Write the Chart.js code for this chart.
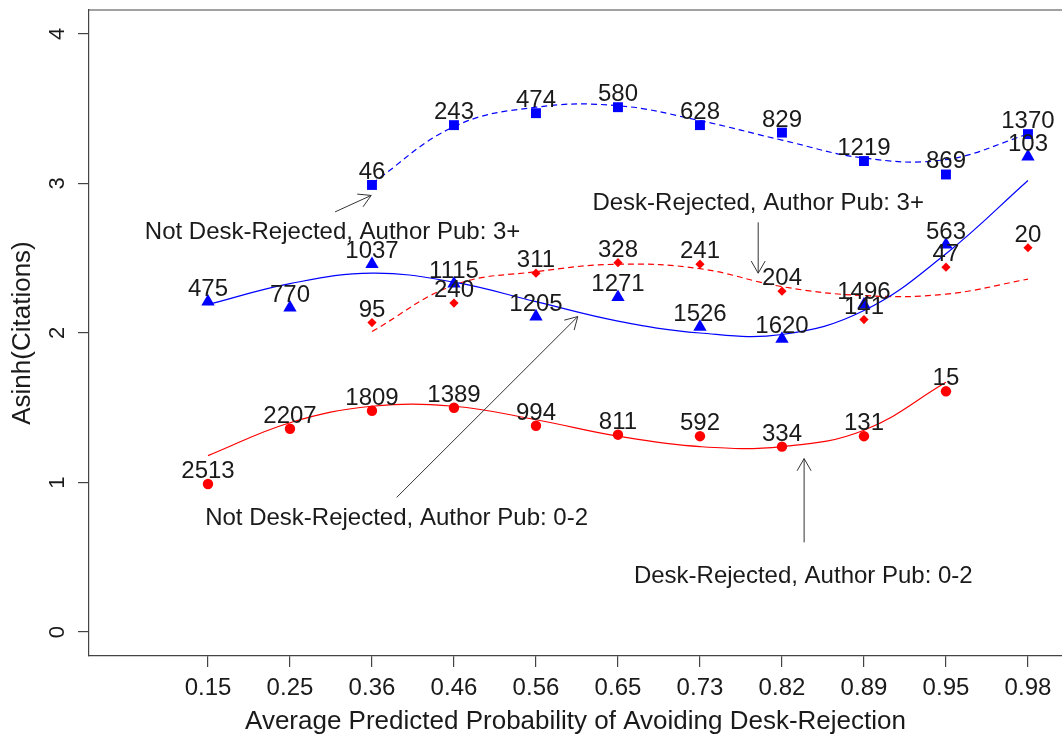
<!DOCTYPE html>
<html>
<head>
<meta charset="utf-8">
<script src="https://cdn.jsdelivr.net/npm/chart.js@4.4.1/dist/chart.umd.min.js"></script>
<style>
  html, body { margin: 0; padding: 0; background: #fff; }
</style>
</head>
<body>
<canvas id="chart" width="1062" height="737"></canvas>
<script>
const xLabels = ['0.15', '0.25', '0.36', '0.46', '0.56', '0.65', '0.73', '0.82', '0.89', '0.95', '0.98'];

// Not desk-rejected, author pubs 3+ (blue squares, dashed fit)
const ndr3Mean = [null, null, 2.99, 3.39, 3.47, 3.51, 3.39, 3.34, 3.15, 3.06, 3.33];
const ndr3N    = [null, null, 46, 243, 474, 580, 628, 829, 1219, 869, 1370];
const ndr3Fit  = [null, null, 3.00, 3.38, 3.51, 3.52, 3.42, 3.29, 3.17, 3.16, 3.33];

// Not desk-rejected, author pubs 0-2 (blue triangles, solid fit)
const ndr02Mean = [2.21, 2.17, 2.46, 2.33, 2.11, 2.24, 2.04, 1.96, 2.19, 2.59, 3.18];
const ndr02N    = [475, 770, 1037, 1115, 1205, 1271, 1526, 1620, 1496, 563, 103];
const ndr02Fit  = [2.19, 2.33, 2.40, 2.34, 2.21, 2.08, 2.00, 1.99, 2.15, 2.53, 3.02];

// Desk-rejected, author pubs 3+ (red diamonds, dashed fit)
const dr3Mean = [null, null, 2.07, 2.20, 2.40, 2.47, 2.46, 2.28, 2.09, 2.44, 2.57];
const dr3N    = [null, null, 95, 240, 311, 328, 241, 204, 141, 47, 20];
const dr3Fit  = [null, null, 2.01, 2.32, 2.41, 2.46, 2.43, 2.31, 2.25, 2.26, 2.36];

// Desk-rejected, author pubs 0-2 (red circles, solid fit)
const dr02Mean = [0.99, 1.36, 1.48, 1.50, 1.38, 1.32, 1.31, 1.24, 1.31, 1.61, null];
const dr02N    = [2513, 2207, 1809, 1389, 994, 811, 592, 334, 131, 15, null];
const dr02Fit  = [1.18, 1.40, 1.51, 1.51, 1.42, 1.31, 1.24, 1.24, 1.35, 1.67, null];

const yTicks = [0, 1, 2, 3, 4];

// annotation text + arrow, in data units (x = category index 1..11)
const notes = [
  { text: 'Not Desk-Rejected, Author Pub: 3+', at: [2.52, 2.67], from: [2.55, 2.81], to: [2.99, 2.92] },
  { text: 'Desk-Rejected, Author Pub: 3+', at: [7.71, 2.87], from: [7.71, 2.74], to: [7.71, 2.40] },
  { text: 'Not Desk-Rejected, Author Pub: 0-2', at: [3.30, 0.76], from: [3.30, 0.90], to: [5.51, 2.11] },
  { text: 'Desk-Rejected, Author Pub: 0-2', at: [8.26, 0.37], from: [8.27, 0.60], to: [8.27, 1.16] }
];

const FONT = "'Liberation Sans', Arial, Helvetica, sans-serif";
Chart.defaults.font.family = FONT;
Chart.defaults.color = '#1a1a1a';

const blue = '#0000ff';
const red = '#ff0000';

function pts(vals, counts) {
  const out = [];
  vals.forEach((v, i) => {
    if (v === null) return;
    out.push({ x: i + 1, y: v, n: counts ? counts[i] : null });
  });
  return out;
}

function marks(data, style, radius, color) {
  return {
    data: data, showLine: false, pointStyle: style, pointRadius: radius,
    pointBackgroundColor: color, pointBorderWidth: 0, showCounts: true
  };
}

function fit(data, color, dashed) {
  return {
    data: data, borderColor: color, borderWidth: 1.2, borderDash: dashed ? [6, 4] : [],
    pointRadius: 0, tension: 0.4, fill: false
  };
}

function arrow(ctx, x0, y0, x1, y1) {
  const a = Math.atan2(y1 - y0, x1 - x0);
  const len = 14, spread = Math.PI / 6;
  ctx.beginPath();
  ctx.moveTo(x0, y0);
  ctx.lineTo(x1, y1);
  ctx.moveTo(x1 - len * Math.cos(a - spread), y1 - len * Math.sin(a - spread));
  ctx.lineTo(x1, y1);
  ctx.lineTo(x1 - len * Math.cos(a + spread), y1 - len * Math.sin(a + spread));
  ctx.stroke();
}

const decor = {
  id: 'decor',
  afterDatasetsDraw(chart) {
    const { ctx, chartArea, scales: { x, y } } = chart;
    ctx.save();

    // top of the box
    ctx.strokeStyle = '#444';
    ctx.lineWidth = 1.2;
    ctx.beginPath();
    ctx.moveTo(chartArea.left, chartArea.top);
    ctx.lineTo(chartArea.right, chartArea.top);
    ctx.stroke();

    // sample sizes above each mark
    ctx.fillStyle = '#1a1a1a';
    ctx.font = '24px ' + FONT;
    ctx.textAlign = 'center';
    ctx.textBaseline = 'alphabetic';
    chart.data.datasets.forEach((ds, i) => {
      if (!ds.showCounts) return;
      chart.getDatasetMeta(i).data.forEach((el, j) => {
        ctx.fillText(String(ds.data[j].n), el.x, el.y - 6);
      });
    });

    // group notes with arrows
    ctx.textBaseline = 'middle';
    ctx.strokeStyle = '#333';
    ctx.lineWidth = 1;
    notes.forEach(n => {
      ctx.fillText(n.text, x.getPixelForValue(n.at[0]), y.getPixelForValue(n.at[1]));
      arrow(ctx,
        x.getPixelForValue(n.from[0]), y.getPixelForValue(n.from[1]),
        x.getPixelForValue(n.to[0]), y.getPixelForValue(n.to[1]));
    });
    ctx.restore();
  }
};

new Chart(document.getElementById('chart'), {
  type: 'line',
  data: {
    datasets: [
      marks(pts(ndr3Mean, ndr3N), 'rect', 7, blue),
      marks(pts(ndr02Mean, ndr02N), 'triangle', 7.7, blue),
      marks(pts(dr3Mean, dr3N), 'rectRot', 4.6, red),
      marks(pts(dr02Mean, dr02N), 'circle', 5.2, red),
      fit(pts(ndr3Fit), blue, true),
      fit(pts(ndr02Fit), blue, false),
      fit(pts(dr3Fit), red, true),
      fit(pts(dr02Fit), red, false)
    ]
  },
  options: {
    responsive: false,
    animation: false,
    layout: { autoPadding: false, padding: { top: 10, left: 0, right: 0, bottom: 0 } },
    plugins: { legend: { display: false }, tooltip: { enabled: false } },
    scales: {
      x: {
        type: 'linear',
        min: -0.451,
        max: 11.415,
        afterBuildTicks: axis => { axis.ticks = xLabels.map((_, i) => ({ value: i + 1 })); },
        afterFit: axis => { axis.height = 81; axis.paddingLeft = 0; axis.paddingRight = 0; },
        ticks: {
          callback: v => xLabels[v - 1],
          autoSkip: false, maxRotation: 0, minRotation: 0,
          font: { size: 24 }, color: '#1a1a1a', padding: 7
        },
        grid: { drawOnChartArea: false, drawTicks: true, tickLength: 11, color: '#444', lineWidth: 1.2 },
        border: { display: true, color: '#444', width: 1.2 },
        title: {
          display: true, text: 'Average Predicted Probability of Avoiding Desk-Rejection',
          font: { size: 26 }, color: '#1a1a1a', padding: { top: 0, bottom: 0 }
        }
      },
      y: {
        type: 'linear',
        min: -0.16,
        max: 4.16,
        afterBuildTicks: axis => { axis.ticks = yTicks.map(v => ({ value: v })); },
        afterFit: axis => { axis.width = 89; axis.paddingTop = 0; axis.paddingBottom = 0; },
        ticks: {
          minRotation: 90, maxRotation: 90, crossAlign: 'center',
          font: { size: 22 }, color: '#1a1a1a', padding: 14
        },
        grid: { drawOnChartArea: false, drawTicks: true, tickLength: 11, color: '#444', lineWidth: 1.2 },
        border: { display: true, color: '#444', width: 1.2 },
        title: {
          display: true, text: 'Asinh(Citations)',
          font: { size: 26 }, color: '#1a1a1a', padding: { top: 7, bottom: 0 }
        }
      }
    }
  },
  plugins: [decor]
});
</script>
</body>
</html>
